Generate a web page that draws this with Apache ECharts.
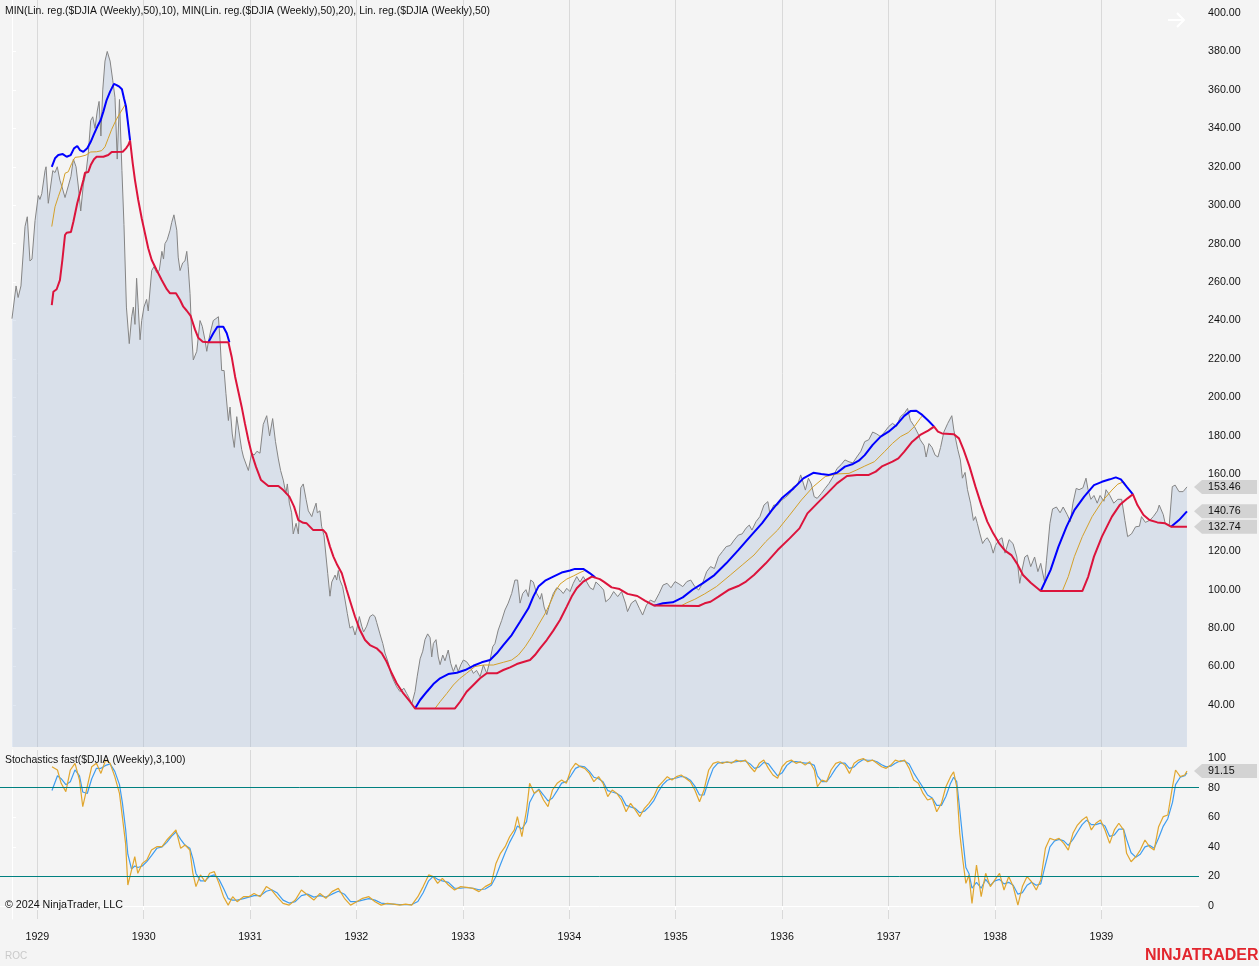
<!DOCTYPE html>
<html>
<head>
<meta charset="utf-8">
<title>DJIA weekly 1929-1939</title>
<script src="https://cdn.jsdelivr.net/npm/echarts@6.0.0/dist/echarts.min.js"></script>
<style>
  html, body { margin: 0; padding: 0; background: #f4f4f4; }
  #chart { width: 1259px; height: 966px; }
</style>
</head>
<body>
<div id="chart"></div>
<script>
// x values are weekly bar numbers counted from the first bar (week of 1928-10-06)
const firstBar = Date.UTC(1928, 9, 6)
const years = [1929, 1930, 1931, 1932, 1933, 1934, 1935, 1936, 1937, 1938, 1939]
const priceTicks = [40, 60, 80, 100, 120, 140, 160, 180, 200, 220, 240, 260, 280, 300, 320, 340, 360, 380, 400]
const stochTicks = [0, 20, 40, 60, 80, 100]

// $DJIA weekly close [week, value]
const price = [
  [0,241],[2,258],[3,252],[4.4,258],[6.4,289],[7.5,294],[8.8,271],[9.8,272],[11.3,292],[12.9,305],[13.7,303],[14.6,306],[16.2,318],[16.7,320],[17.8,301],[18.6,300],[20,318],[21.1,317],[22.2,320],[23.5,313],[24.4,310],[26,304],[27.6,310],[28.9,315],[30.1,324],[31.4,320],[32.5,310],[33.7,297],[35,311],[36.3,317],[37.4,327],[38.6,344],[39.6,346],[40.7,340],[41.8,349],[42.7,354],[43.6,336],[44.5,360],[45.6,375],[46.7,380],[48.1,375],[49.4,365],[50.5,356],[51.6,324],[52.7,355],[53.9,318],[54.9,290],[56.1,247],[57.5,228],[58.7,242],[59.5,247],[60.3,238],[61.1,262],[61.9,247],[62.8,230],[63.6,240],[64.7,247],[66,251],[66.8,245],[68.5,266],[69.6,268],[70.9,265],[72.2,266],[73.5,276],[74.3,272],[75,280],[76.1,282],[77.5,287],[78.3,291],[79.4,295],[80.8,287],[81.5,273],[82.4,266],[83.7,270],[84.8,271],[85.7,276],[86.4,268],[87.3,254],[88.1,233],[88.9,219.5],[90.6,224],[91.4,223],[92.2,240],[93.3,237],[94.6,230],[95.5,224],[96.3,229],[97.3,234],[98.7,240],[100,241],[101.2,242],[102,230],[102.8,214],[104,214],[104.9,202],[106.1,188],[106.9,195],[108,181],[109,174],[110.2,190],[111.2,183],[112.6,173],[113.5,169],[114.2,169],[115.9,162],[117.5,171],[118.7,170],[120.1,172],[121.6,171],[123.2,186],[124.9,190.5],[126.3,180],[127.8,189],[129.2,177],[130.6,168],[131.7,162],[133,157],[134.3,150],[135,155],[136,145],[137.1,140],[137.9,129],[139.3,134.5],[140.4,129],[141.6,153],[142.8,155],[144.2,147],[145.3,141],[147,138],[147.8,141],[149.1,145],[149.7,140],[151,141],[151.8,133],[153,128],[154,117],[154.8,108.5],[155.9,96.6],[156.8,104],[157.6,103],[158.4,107.6],[159.2,105],[160,110],[160.8,105],[162.1,101.6],[163.3,94.6],[164.4,87.7],[165.7,80],[167,81],[168.2,76.4],[169.4,81],[170.3,86],[171.5,81],[172.4,78],[173.9,81],[175.5,86],[176.9,87],[178,86],[178.8,83],[180.4,77],[181.8,72],[182.9,67],[184.5,62],[185.7,56.5],[187,53],[188.6,49.5],[190.2,47],[192.2,48.7],[193.5,46],[194.8,43.5],[196,40.5],[197.6,47],[198.7,55],[200.1,64],[201.4,68],[202.5,74],[203.8,77],[205,75],[205.8,65],[206.6,72],[207.9,74],[209,65],[209.9,61],[211.2,66],[212.3,63],[213.9,68.6],[215.1,61.7],[216.4,57.4],[217.7,61],[218.8,57.4],[220.1,61],[221.3,63.4],[222.9,62.5],[224.6,60],[226.2,56.5],[227.8,58],[229.5,54.7],[231.1,60.8],[232.8,56.5],[234.4,63.4],[235.7,70.3],[236.8,72],[238.4,79],[240.1,84],[241.7,89.4],[243.3,93],[245,98],[246.6,105],[247.9,105],[249.1,93],[250.4,98],[252,100],[253.2,96.4],[254.3,105],[255.6,104],[257.3,98],[258.9,95],[259.7,98],[260.9,91],[262.2,87],[263.8,93],[265.4,98],[267.1,101],[268.7,100],[270.3,98],[272,100.7],[273.6,99],[275.2,103.3],[276.9,106.8],[278.5,104],[280.1,106.8],[281.8,104],[283.4,101],[285,100],[286.3,104],[288.3,102],[290.1,99.8],[291.1,93.7],[293.1,95.5],[295,99],[297,96.4],[298.9,99],[300.8,93],[301.8,88.6],[303.7,93],[305.7,94.6],[307.6,90.3],[309.2,86.8],[311.1,92],[313,94.6],[315,93.5],[317.3,98],[319.2,102.4],[321.2,103.3],[323.1,101],[325.1,104.2],[327,103],[328.9,101.6],[330.9,104.2],[332.8,105],[334.8,101.6],[336.7,99.8],[338.6,103.3],[340.6,109.4],[342.5,112],[344.4,111],[346.4,117.2],[348.3,119.8],[350.2,122.4],[352.2,123],[354.1,125.8],[356.1,128.4],[358,129],[359.9,132],[361.5,133.6],[362.8,131],[364.8,135.4],[366.7,138],[368.7,144],[370.6,145.8],[371.6,139.7],[373.5,144],[375.4,144],[377.4,146.7],[379.3,148],[381.3,150],[383.2,153.6],[385.2,154.5],[386.7,159.7],[387.8,156],[389,151.8],[390.5,158],[391.9,155],[393.3,148.4],[394.8,147.5],[396.8,150],[398.7,152.7],[400.6,155.3],[402.6,158.8],[404.5,163],[406.5,165],[408.4,167.5],[410.4,166.5],[412.3,166],[414.2,169],[416.2,172],[418.1,177],[420.1,178],[422,182],[424,181],[425.9,179.6],[427.8,182],[429.8,184.8],[431.7,186.5],[433.7,185],[435.6,190],[437.5,191.7],[439.1,194.3],[440.5,188],[442.4,185],[444.3,181],[445.3,178],[447.2,175],[448.2,169],[449.6,176],[451.1,174],[452.6,170],[454,169],[455.3,174],[456.9,182],[458.8,186.5],[460.8,190.5],[461.8,183],[463.7,173],[465,167.5],[466,158],[467.3,161],[468.5,152],[470,145],[471.4,136],[472.4,138],[473.3,134.5],[474.6,129],[475.9,124],[477.1,126],[478.2,127],[479.8,124],[481.1,119],[482.2,123],[484,126],[485.4,127],[486.9,119],[488.9,126],[490.8,124],[492.7,117],[494.1,103.3],[495.2,110],[496.6,117],[497.9,118],[499.5,112],[501.4,117],[503,109.4],[504.4,113.7],[506.3,104],[507.2,115],[508.9,134.5],[510.2,142],[512.1,143],[513.9,140],[515.4,143],[517.4,139],[518.9,135.4],[520.2,145],[521.8,152.7],[523.2,152],[525.1,153],[526.6,158],[527.6,152],[529,147],[530.5,149],[532.1,145],[533.5,149],[535.4,146],[536.4,152],[538.3,149],[540.2,145],[542.2,147],[544.1,147],[545.7,136],[547,127.6],[548.9,129],[550.9,132.7],[552.8,133],[553.8,138],[555.7,135],[557.7,136],[559.6,138],[561.6,141],[562.5,144],[564.5,139],[565.4,134.5],[567.4,133.6],[568.9,153.6],[570.3,154.4],[572.2,151],[574.2,151],[576.1,153.46]
]

// MIN(Lin. reg.(50),20)
const minReg20 = [
  [19.5,248],[20.3,255],[21.9,256.3],[23.5,261],[24.7,271.5],[26,284.5],[26.8,285.7],[28.9,286.1],[30.1,291.4],[32,301],[33.3,306.2],[35,313.1],[35.8,316.9],[37.4,317.3],[38.6,320.9],[40.2,323.9],[41.5,325.2],[44.8,325.2],[47.2,326.1],[48.9,327.7],[54.3,327.8],[55.9,329.6],[57,331.3],[57.9,333.6],[59.2,321.8],[60.3,313.1],[61.9,302.7],[63.6,293.2],[65.2,285.4],[66.8,277.6],[68.5,271.5],[70.9,266.3],[73.4,261.1],[75.9,256.3],[77.5,254.2],[80.4,254.2],[82.4,250.7],[84,247.2],[85.7,245.1],[87.6,242.4],[89.7,235.4],[91.3,231.1],[93.5,229],[96.3,228.7],[106.1,228.7],[107.7,221.2],[109.4,210.8],[111,203],[112.6,195.2],[114.2,186.5],[115.9,177.9],[117.5,170.9],[119.6,164],[122.1,157],[125.7,153.9],[130.6,153.9],[133,151.8],[136,148.4],[138.3,143.2],[140.4,136.2],[142.8,134.8],[144.5,134.5],[147.7,131],[152.6,131],[154,129.3],[155.9,122.4],[157.6,117.2],[159.5,112.8],[161.7,108.5],[164.1,99.8],[166.1,92.9],[168.2,85.9],[170.6,79],[173.1,73.8],[175.5,71.2],[178.8,69.5],[181.3,66.9],[183.7,62.5],[186.2,56.5],[188.6,51.3],[191.9,46],[195.2,41.7],[197.6,38.2],[217.2,38.2],[219.7,41.7],[222.9,46.9],[226.2,50.4],[229.5,53.9],[232.8,56.5],[237.7,56.5],[240.9,58.2],[244.2,59.6],[247.5,61.3],[250.7,62.4],[254,63.4],[256.4,66],[258.9,69.5],[262.2,73.8],[265.4,78.7],[268.7,84.2],[272,91.2],[274.4,96.4],[276.9,100.7],[280.1,104.2],[284.3,106.8],[288.2,105.5],[290.1,104.2],[294,101.2],[297.9,100.3],[301.8,97.8],[306.6,96.7],[310.5,94.2],[314.9,91.7],[336.7,91.5],[339.6,92.9],[342.5,93.7],[346.4,96.4],[351.2,99.8],[356.1,101.9],[359.9,104.2],[363.8,107.6],[369.6,113.7],[375.4,120.6],[381.3,126.7],[386.1,131.9],[390,139.7],[394.8,144.9],[399.7,150.1],[404.5,155.3],[409.4,159.1],[414.2,159.7],[420.1,159.7],[423.5,161.4],[426.8,164.3],[431.7,166.6],[434.6,168.3],[437.5,171.8],[441.4,177],[445.3,180.5],[449.2,182.7],[452.1,184.8],[454,182.2],[456,181.3],[461.8,180.9],[464.3,178.7],[466.6,172.7],[469.5,164],[472.4,153.6],[475.3,144],[478.2,135.4],[481.1,129.3],[484,124.1],[486.9,120.3],[490,118],[492.7,113.7],[495.7,107.6],[499.5,103.6],[504.4,99.3],[524.8,99.3],[527.7,106.8],[530.5,117.2],[534.4,127.6],[539.3,138],[543.1,144],[547,147.5],[549.6,149.6],[551.8,144],[554.8,138.8],[557.7,136.2],[561.6,135],[565.4,134.5],[568.3,132.74],[576.1,132.74]
]

// MIN(Lin. reg.(50),10): only the stretches where it rises above the red line
const minReg10 = [
  [[19.5,320],[21.1,324.4],[22.7,326.1],[24.9,326.6],[26.8,325.2],[28.8,326.1],[30.4,329.6],[32,330.8],[33.3,328.7],[35,327.8],[36.9,329.6],[38.6,333],[40.2,337],[41.8,340.8],[43.5,344.3],[44.8,348.7],[46.4,354.7],[48.1,359.1],[50,363.1],[51.3,362.5],[52.6,361.7],[53.9,360.3],[54.9,355.6],[55.9,351.3],[57,341.7],[57.9,333.6]],
  [[96.3,228.7],[98.7,233.4],[100.7,236.8],[103.6,236.8],[105.3,233.4],[106.6,228.7]],
  [[197.6,38.2],[200.1,42.6],[203.4,46.9],[206.6,50.9],[209.9,53.9],[213.9,56.1],[218.1,56.8],[222.2,58.2],[226.2,60.4],[230.3,62.2],[234.4,63.4],[237.7,66.9],[240.9,71.2],[245,76.4],[249.1,83.3],[253.2,90.3],[255.6,96.4],[258.1,101.6],[261.4,104.7],[265.4,106.8],[269.5,108.9],[273.6,110],[276,110.8],[280.1,110.8],[283.4,108.5],[285.9,106.4]],
  [[314.9,91.7],[319.2,92.9],[324,93.4],[328.9,96],[333.8,100.1],[338.6,103.3],[344.4,107.6],[350.2,113.7],[356.1,120.6],[361.9,127.6],[367.7,134.5],[372.6,141.4],[377.4,147.5],[383.2,152.7],[388,157.9],[392.9,160.8],[396.8,160.2],[400.6,159.7],[404.5,160.8],[408.4,164],[412.3,165.4],[415.2,167.1],[418.1,170],[422,175.3],[425.9,179.6],[429.8,182.2],[433.7,185.7],[437.5,190.4],[440.5,192.9],[443.4,193.1],[446.3,190.9],[449.2,188],[452.1,184.8]],
  [[504.4,99.3],[509.2,110.2],[513.1,122.4],[517,132.7],[520.9,141.4],[525.7,148.4],[530.5,154.4],[534.4,156.1],[538.3,157.4],[541.2,158.4],[543.7,157.4],[546.5,153.6],[549.6,149.6]],
  [[568.3,132.74],[572.2,136.2],[576.1,140.76]]
]

// Lin. reg.(50): visible stretches
const linReg50 = [
  [[19.5,288.9],[21.1,299.2],[22.7,304.4],[24.4,309.6],[26,316.6],[27.6,317.4],[29.3,321.8],[30.9,324.9],[33.3,325.2],[36.3,326.1],[38.6,327.7],[41.5,327.8],[44,328.4],[45.6,330.4],[47.2,334.8],[48.9,339.5],[51,344.3],[52.9,347.8],[55.4,352.1],[56.5,346.1],[57.9,333.6]],
  [[207.4,38.2],[209.9,41.7],[213.2,46],[216.4,50.4],[219.7,53.9],[222.9,56.5],[227,60],[231.1,60.8],[236,60.8],[240.9,62.2],[245,63.4],[248.3,66],[251.6,70.3],[254.8,75.5],[258.1,81.6],[261.4,87.6],[263.8,92.9],[266.3,98.9],[268.7,102.9],[272,105.5],[275.2,107.1],[278.5,108.9],[280.9,110],[282.6,109.4],[285,106.8]],
  [[327.9,91.5],[330.9,93.2],[334.8,95],[339.6,97.8],[345.4,101.6],[352.2,107.6],[358,112.8],[363.8,118],[369.6,125],[375.4,131],[381.3,138.8],[387.1,146.7],[392.9,153.6],[398.7,158.8],[404.5,160.2],[410.4,160.5],[414.2,162.3],[418.1,164.3],[422.9,166.6],[427.8,171.8],[431.7,176.1],[435.6,179.6],[439.4,181.7],[442.4,184.8],[445.3,189.1],[446.8,190.9]],
  [[515,99.3],[517.9,106.8],[520.9,117.2],[524.8,127.6],[529.6,138],[534.4,145.8],[539.3,151.8],[542.2,154.9],[545.1,156.1],[546.5,153.6]]
]

// Stochastics fast(3,100): K (orange) and D (blue)
const stochK = [
  [19.6,94.1],[22.3,91.9],[24.1,82.9],[26.4,77.3],[28.6,91.9],[30.9,96.4],[33.1,85.1],[34.7,67.1],[36.9,80.6],[39.1,94.1],[41.4,96.4],[43.6,89.6],[45.9,98.6],[48.1,96.4],[50.4,87.4],[52.7,76.1],[54.1,60.4],[55.7,42.3],[56.8,14.2],[58.6,24.3],[60.2,33.3],[61.7,22.1],[63.9,28.8],[66.1,31.1],[68.4,37.8],[71,40.1],[73.6,40.1],[75.9,44.6],[78.2,48],[80.4,51.4],[82.7,39],[84.9,41.2],[87.2,37.8],[88.7,22.1],[90.2,13.1],[92.4,21],[94.7,16.4],[96.9,22.1],[99.2,23.2],[101.5,15.3],[103.7,6.3],[106,0.6],[108.2,6.3],[110.4,2.9],[113.5,6.3],[116.1,6.3],[118.7,8.5],[121.7,6.3],[124.7,13.1],[127.3,10.8],[129.9,6.3],[132.9,1.8],[135.9,0.6],[138.9,4],[141.9,10.8],[144.9,7.4],[148,4],[151,8.5],[153.9,5.2],[156.9,9.7],[160,11.9],[163,5.2],[166,0.6],[169,2.9],[171.9,5.2],[175,6.3],[178,2.9],[181,0.6],[184,1.8],[187,1.3],[190,0.6],[193,1.3],[196,0.6],[199,6.3],[201.6,13.1],[204.3,21],[206.5,19.9],[208.7,15.3],[211,18.7],[214,14.2],[217,10.8],[220,13.1],[223,12.6],[226,11.9],[229,9.7],[232,13.1],[235,15.3],[237.3,28.8],[239.5,35.6],[241.8,40.1],[244,46.8],[246.3,51.4],[247.8,60.4],[250,46.8],[252.3,64.9],[253.8,82.9],[256.1,76.1],[258.3,78.4],[260.6,71.6],[262.8,67.1],[265,78.4],[267.3,82.9],[269.5,85.1],[271.8,82.9],[274,91.9],[276.3,96.4],[278.6,94.1],[280.8,93],[283.1,89.6],[285.3,84],[287.6,87.4],[289.8,82.9],[292.1,73.9],[294.3,78.4],[296.6,76.1],[298.8,71.6],[301.1,63.7],[303.3,69.4],[305.6,64.9],[307.8,60.4],[310.1,66],[312.3,69.4],[314.6,73.9],[316.8,80.6],[319.1,84],[321.3,87.4],[323.6,85.1],[325.8,87.4],[328.1,88.5],[330.3,86.3],[332.6,84],[334.8,78.4],[337.1,70.5],[339.3,78.4],[341.6,91.9],[343.8,96.4],[346.1,97.5],[348.3,96.4],[350.6,97.5],[352.8,96.5],[355.1,98.6],[357.3,97.5],[359.6,98.6],[361.9,94.1],[364.1,90.7],[366.4,96.4],[368.6,98.6],[370.9,93],[373.1,88.5],[375.4,86.3],[377.6,94.1],[379.9,97.5],[382.1,98.6],[384.4,96.4],[386.6,97.5],[388.9,95.2],[391.1,97.5],[393.4,91.9],[394.9,80.6],[397.1,85.1],[399.4,84],[401.6,91.9],[403.9,96.4],[406.1,97.5],[408.4,95.2],[410.6,89.6],[412.9,96.4],[415.1,98.6],[417.4,99.7],[419.6,97.5],[421.9,98.6],[424.1,96.4],[426.4,94.1],[428.6,93],[430.9,95.2],[433.1,98.6],[435.4,97.5],[437.6,98.6],[439.9,93],[442.1,85.1],[444.4,82.9],[446.7,76.1],[448.9,71.6],[451.2,72.7],[453.4,63.7],[455.7,69.4],[457.9,80.6],[460.2,87.4],[461.7,90.7],[463.2,80.6],[464.7,49.1],[466.2,31.1],[467.7,15.3],[469.2,21],[470.7,1.8],[472.9,27.7],[475.2,6.3],[477.4,22.1],[479.7,13.1],[481.9,17.6],[484.2,22.1],[486.4,10.8],[488.7,19.9],[490.9,13.1],[493.2,0.6],[495.4,13.1],[497.7,19.9],[499.9,16.4],[502.2,10.8],[504.4,17.6],[506.7,39],[508.9,45.7],[511.2,44.6],[513.4,45.7],[515.7,42.3],[517.9,37.8],[520.2,49.1],[522.4,54.7],[524.7,58.1],[526.9,60.4],[529.2,51.4],[531.4,55.9],[533.7,58.1],[535.9,51.4],[538.2,42.3],[540.5,51.4],[542.7,55.9],[545,51.4],[546.5,35.6],[548.7,29.9],[551,33.3],[553.2,37.8],[555.5,44.6],[557.7,40.1],[560,37.8],[562.2,53.6],[564.5,60.4],[566.7,61.5],[569,80.6],[570.5,91.9],[572.8,87.4],[575,88.5],[576.1,91.15]
]
const stochD = [
  [19.6,78],[22.3,88],[24.1,86],[26.4,82],[28.6,84],[30.9,92],[33.1,88],[34.7,77],[36.9,76],[39.1,86],[41.4,93],[43.6,93],[45.9,95],[48.1,96],[50.4,91],[52.7,82],[54.1,70],[55.7,52],[56.8,35],[58.6,25],[60.2,27],[61.7,26],[63.9,27],[66.1,30],[68.4,34],[71,39],[73.6,40],[75.9,43],[78.2,47],[80.4,50],[82.7,45],[84.9,41],[87.2,39],[88.7,32],[90.2,22],[92.4,17],[94.7,17],[96.9,20],[99.2,21],[101.5,18],[103.7,12],[106,5],[108.2,4],[110.4,4],[113.5,5],[116.1,6],[118.7,7],[121.7,7],[124.7,10],[127.3,11],[129.9,9],[132.9,4],[135.9,2],[138.9,3],[141.9,7],[144.9,8],[148,6],[151,7],[153.9,6],[156.9,8],[160,10],[163,8],[166,3],[169,3],[171.9,4],[175,5],[178,4],[181,2],[184,1.5],[187,1.3],[190,1],[193,1],[196,1],[199,3],[201.6,9],[204.3,17],[206.5,20],[208.7,18],[211,17],[214,16],[217,12],[220,12],[223,12.5],[226,12],[229,11],[232,11.5],[235,14],[237.3,20],[239.5,28],[241.8,36],[244,43],[246.3,49],[247.8,54],[250,52],[252.3,57],[253.8,70],[256.1,76],[258.3,79],[260.6,75],[262.8,71],[265,73],[267.3,78],[269.5,83],[271.8,84],[274,88],[276.3,93],[278.6,94.5],[280.8,94],[283.1,91],[285.3,87],[287.6,86],[289.8,84],[292.1,78],[294.3,77],[296.6,76],[298.8,74],[301.1,68],[303.3,67],[305.6,66],[307.8,63],[310.1,64],[312.3,67],[314.6,71],[316.8,77],[319.1,82],[321.3,85],[323.6,86],[325.8,86.5],[328.1,87.5],[330.3,87],[332.6,85],[334.8,81],[337.1,75],[339.3,75],[341.6,85],[343.8,93],[346.1,96.5],[348.3,97],[350.6,97],[352.8,97],[355.1,97.5],[357.3,98],[359.6,98],[361.9,96],[364.1,93],[366.4,94],[368.6,97],[370.9,96],[373.1,92],[375.4,88],[377.6,90],[379.9,95],[382.1,97.5],[384.4,97.5],[386.6,97],[388.9,96.5],[391.1,96.5],[393.4,95],[394.9,88],[397.1,84],[399.4,84],[401.6,88],[403.9,93],[406.1,96.5],[408.4,96.5],[410.6,93],[412.9,94],[415.1,97],[417.4,99],[419.6,98.5],[421.9,98.5],[424.1,97.5],[426.4,95.5],[428.6,94],[430.9,94.5],[433.1,96.5],[435.4,98],[437.6,98],[439.9,96],[442.1,90],[444.4,85],[446.7,80],[448.9,75],[451.2,73],[453.4,68],[455.7,68],[457.9,74],[460.2,83],[461.7,87],[463.2,84],[464.7,65],[466.2,45],[467.7,26],[469.2,22],[470.7,12],[472.9,16],[475.2,12],[477.4,18],[479.7,14],[481.9,17],[484.2,18],[486.4,15],[488.7,16],[490.9,14],[493.2,8],[495.4,9],[497.7,14],[499.9,16],[502.2,14],[504.4,15],[506.7,28],[508.9,40],[511.2,44],[513.4,45],[515.7,44],[517.9,41],[520.2,45],[522.4,50],[524.7,55],[526.9,58],[529.2,55],[531.4,55],[533.7,56],[535.9,54],[538.2,47],[540.5,48],[542.7,52],[545,52],[546.5,45],[548.7,36],[551,33],[553.2,35],[555.5,40],[557.7,41],[560,39],[562.2,46],[564.5,54],[566.7,59],[569,70],[570.5,82],[572.8,87],[575,88],[576.1,90]
]

const FONT = '"Liberation Sans", Arial, sans-serif'
const FS = 10.7
const WEEK = 7 * 86400000
const yearWeeks = years.map(y => (Date.UTC(y, 0, 1) - firstBar) / WEEK)

function yearLabel(v) {
  const i = yearWeeks.findIndex(w => Math.abs(w - v) < 0.01)
  return i >= 0 ? String(years[i]) : ''
}

function xAxis(gridIndex, withLabels) {
  return {
    type: 'value',
    gridIndex: gridIndex,
    min: -5.88,
    max: 582.0,
    axisLine: { show: withLabels, lineStyle: { color: '#ffffff', width: 1 } },
    axisTick: { show: withLabels, customValues: yearWeeks, length: 4, lineStyle: { color: '#ffffff' } },
    axisLabel: {
      show: withLabels, customValues: yearWeeks, formatter: yearLabel,
      color: '#111', fontSize: FS, fontFamily: FONT, margin: 13
    },
    splitLine: { show: true, lineStyle: { color: '#d9d9d9', width: 1 } }
  }
}

function line(data, color, width, xi, z) {
  return {
    type: 'line', xAxisIndex: xi, yAxisIndex: xi, data: data,
    symbol: 'none', showSymbol: false, silent: true, z: z,
    lineStyle: { color: color, width: width }
  }
}

var chart = echarts.init(document.getElementById('chart'))
var series = []
// price area
series.push({
  type: 'line', xAxisIndex: 0, yAxisIndex: 0, data: price,
  symbol: 'none', silent: true, z: 1,
  lineStyle: { color: '#858585', width: 1 },
  areaStyle: { color: 'rgba(168,188,214,0.5)', origin: 'start' }
})
linReg50.forEach(seg => series.push(line(seg, '#d4a029', 1, 0, 2)))
minReg10.forEach(seg => series.push(line(seg, '#0000ff', 2, 0, 3)))
series.push(line(minReg20, '#dc143c', 2, 0, 4))
// stochastics
var dLine = line(stochD, '#3d9cf0', 1.2, 1, 2)
dLine.markLine = {
  silent: true, symbol: 'none', label: { show: false },
  lineStyle: { color: '#008080', width: 1, type: 'solid', opacity: 1 },
  data: [{ yAxis: 20 }, { yAxis: 80 }]
}
series.push(dLine)
series.push(line(stochK, '#e0a62e', 1.2, 1, 3))

var option = {
  animation: false,
  backgroundColor: '#f4f4f4',
  grid: [
    { left: 0, top: 0, width: 1199, height: 747 },
    { left: 0, top: 750, width: 1199, height: 169 }
  ],
  xAxis: [xAxis(0, false), xAxis(1, true)],
  yAxis: [
    {
      type: 'value', gridIndex: 0, position: 'right', min: 18.15, max: 406.76,
      axisLine: { show: true, lineStyle: { color: '#ffffff' } },
      axisTick: { show: true, customValues: priceTicks, length: 4, lineStyle: { color: '#ffffff' } },
      axisLabel: { customValues: priceTicks, formatter: v => v.toFixed(2), color: '#111', fontSize: FS, fontFamily: FONT, margin: 9 },
      splitLine: { show: false }
    },
    {
      type: 'value', gridIndex: 1, position: 'right', min: -8.78, max: 105.41,
      axisLine: { show: true, lineStyle: { color: '#ffffff' } },
      axisTick: { show: true, customValues: stochTicks, length: 4, lineStyle: { color: '#ffffff' } },
      axisLabel: { customValues: stochTicks, color: '#111', fontSize: FS, fontFamily: FONT, margin: 9 },
      splitLine: { show: false }
    }
  ],
  series: series
}
chart.setOption(option)

// price markers on the right axis, placed from the axis scale
function valueBox(axisIndex, value) {
  var y = chart.convertToPixel({ yAxisIndex: axisIndex }, value)
  return [
    {
      type: 'polygon', z: 100,
      shape: { points: [[1194, y], [1202, y - 7], [1257, y - 7], [1257, y + 7], [1202, y + 7]] },
      style: { fill: '#d3d3d3' }
    },
    {
      type: 'text', z: 101, x: 1208, y: y,
      style: { text: value.toFixed(2), font: FS + 'px ' + FONT, fill: '#111', verticalAlign: 'middle' }
    }
  ]
}
function label(x, y, text, fill, font) {
  return { type: 'text', x: x, y: y, z: 100, style: { text: text, fill: fill, font: font, verticalAlign: 'middle' } }
}

var graphic = [].concat(
  valueBox(0, price[price.length - 1][1]),
  valueBox(0, minReg10[minReg10.length - 1].slice(-1)[0][1]),
  valueBox(0, minReg20[minReg20.length - 1][1]),
  valueBox(1, stochK[stochK.length - 1][1]),
  [
    label(5, 11, 'MIN(Lin. reg.($DJIA (Weekly),50),10), MIN(Lin. reg.($DJIA (Weekly),50),20), Lin. reg.($DJIA (Weekly),50)', '#111', '10.4px ' + FONT),
    label(5, 760, 'Stochastics fast($DJIA (Weekly),3,100)', '#111', '10.4px ' + FONT),
    label(5, 905, '\u00a9 2024 NinjaTrader, LLC', '#111', '10.7px ' + FONT),
    label(5, 956, 'ROC', '#c9c9c9', '10px ' + FONT),
    label(1145, 956, 'NINJATRADER', '#e2262e', 'bold 16px ' + FONT),
    // chart-trader arrow in the top right corner
    { type: 'polyline', z: 100, shape: { points: [[1168, 20], [1184, 20]] }, style: { stroke: '#ffffff', lineWidth: 2 } },
    { type: 'polyline', z: 100, shape: { points: [[1177, 13], [1184, 20], [1177, 27]] }, style: { stroke: '#ffffff', lineWidth: 2, fill: null } }
  ]
)
chart.setOption({ graphic: graphic })
</script>
</body>
</html>
